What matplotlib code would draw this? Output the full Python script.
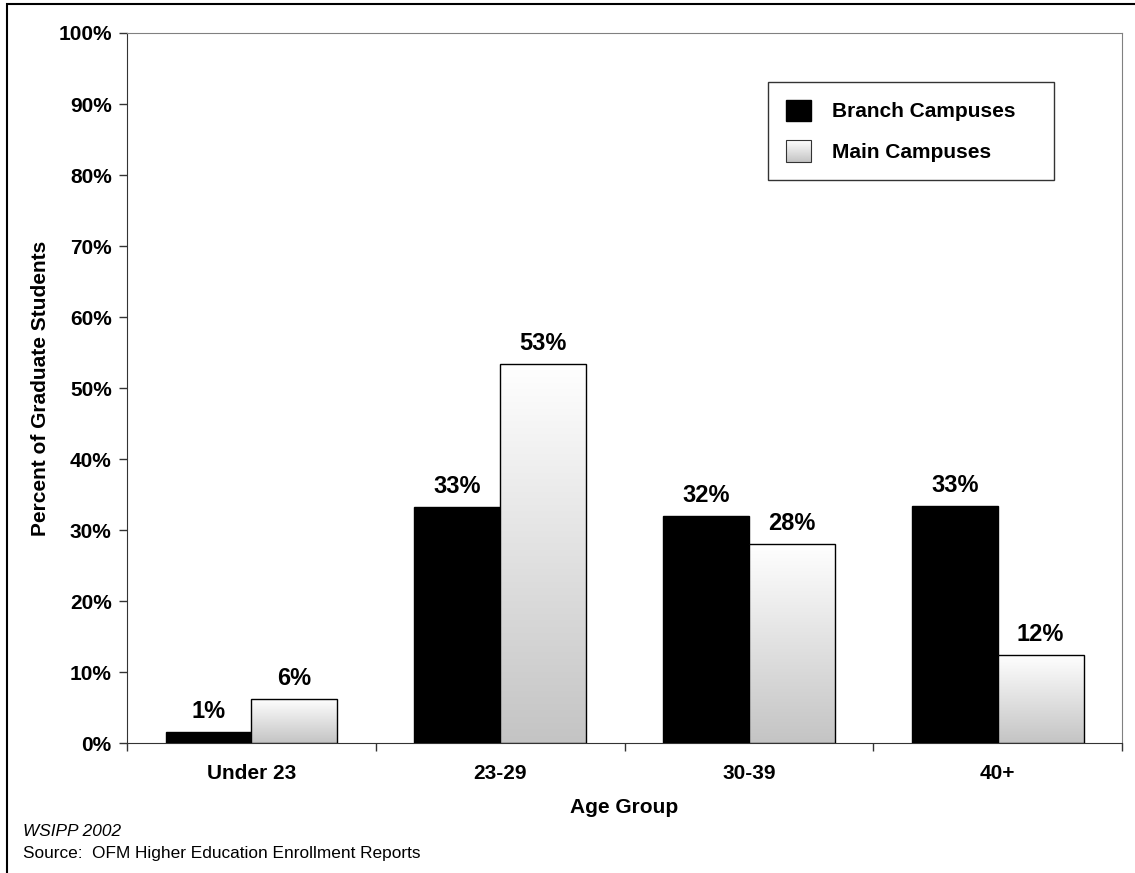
import numpy as np
import matplotlib
matplotlib.use("Agg")
import matplotlib.pyplot as plt
from matplotlib.patches import Rectangle
from matplotlib.colors import LinearSegmentedColormap
from matplotlib.legend_handler import HandlerBase
from matplotlib.image import BboxImage
from matplotlib.transforms import Bbox, TransformedBbox

plt.rcParams["font.family"] = ["Liberation Sans", "DejaVu Sans"]

age_groups = ["Under 23", "23-29", "30-39", "40+"]
branch = [1.5, 33.2, 32.0, 33.4]
main_campus = [6.2, 53.4, 28.0, 12.4]
branch_labels = ["1%", "33%", "32%", "33%"]
main_labels = ["6%", "53%", "28%", "12%"]
yticks = list(range(0, 101, 10))

grad_cmap = LinearSegmentedColormap.from_list("g", ["#c4c4c4", "#ffffff"])
grad = np.linspace(0, 1, 256).reshape(-1, 1)


class GradientHandler(HandlerBase):
    def create_artists(self, legend, orig_handle, xdescent, ydescent,
                       width, height, fontsize, trans):
        bb = TransformedBbox(Bbox.from_bounds(-xdescent, -ydescent, width, height), trans)
        im = BboxImage(bb, cmap=grad_cmap, interpolation="bicubic", origin="lower")
        im.set_data(grad)
        r = Rectangle((-xdescent, -ydescent), width, height, fill=False,
                      edgecolor="#333333", linewidth=0.8, transform=trans)
        return [im, r]


fig = plt.figure(figsize=(11.35, 8.73), dpi=100)
ax = fig.add_axes([0.1119, 0.1489, 0.8767, 0.8133])

x = np.arange(len(age_groups))
w = 0.345

b1 = ax.bar(x - w / 2, branch, w, color="black", edgecolor="black", linewidth=1, zorder=3)
b2 = ax.bar(x + w / 2, main_campus, w, color="none", edgecolor="black", linewidth=1, zorder=4)

for rect in b2:
    x0, y0 = rect.get_x(), rect.get_y()
    im = ax.imshow(grad, cmap=grad_cmap, aspect="auto", origin="lower",
                   extent=[x0, x0 + rect.get_width(), y0, y0 + rect.get_height()],
                   interpolation="bicubic", zorder=3)
    im.set_clip_path(rect)

for bars, labels in [(b1, branch_labels), (b2, main_labels)]:
    for rect, lab in zip(bars, labels):
        ax.text(rect.get_x() + rect.get_width() / 2, rect.get_height() + 2.0, lab,
                ha="center", va="baseline", fontsize=17, fontweight="bold")

ax.set_xlim(-0.5, 3.5)
ax.set_ylim(0, 100)
ax.set_yticks(yticks)
ax.set_yticklabels([f"{v}%" for v in yticks], fontsize=15, fontweight="bold")
ax.set_xticks(x)
ax.set_xticklabels(age_groups, fontsize=15, fontweight="bold")
ax.set_xticks(np.arange(-0.5, 3.6, 1), minor=True)
ax.tick_params(axis="x", which="major", length=0, pad=15)
ax.tick_params(axis="x", which="minor", length=6, width=1, color="#333333")
ax.tick_params(axis="y", length=6, width=1, color="#333333", pad=5)

for side in ["top", "right"]:
    ax.spines[side].set_color("#808080")
ax.spines["left"].set_color("#333333")
ax.spines["bottom"].set_color("#333333")

ax.set_xlabel("Age Group", fontsize=15, fontweight="bold", labelpad=11)
ax.set_ylabel("Percent of Graduate Students", fontsize=15, fontweight="bold", labelpad=6)

h1 = Rectangle((0, 0), 1, 1, facecolor="black", edgecolor="black")
h2 = Rectangle((0, 0), 1, 1, facecolor="#e0e0e0", edgecolor="black")
leg = ax.legend([h1, h2], ["Branch Campuses", "Main Campuses"],
                handler_map={h2: GradientHandler()},
                loc="upper left", bbox_to_anchor=(0.644, 0.796, 0.2874, 0.135),
                mode="expand",
                prop={"size": 15, "weight": "bold"}, fancybox=False,
                edgecolor="#333333", framealpha=1, handlelength=1.2,
                handleheight=1.2, handletextpad=1.05, borderpad=0.85,
                labelspacing=0.9, borderaxespad=0)
leg.get_frame().set_linewidth(1)

fig.text(0.020, 0.047, "WSIPP 2002", fontsize=12.4, style="italic", va="center")
fig.text(0.020, 0.022, "Source:  OFM Higher Education Enrollment Reports", fontsize=12.4, va="center")

fig.patches.append(Rectangle((0.006, -0.1), 1.5, 1.095, transform=fig.transFigure,
                             fill=False, edgecolor="black", linewidth=1.5))

fig.savefig("out.png", dpi=100)
